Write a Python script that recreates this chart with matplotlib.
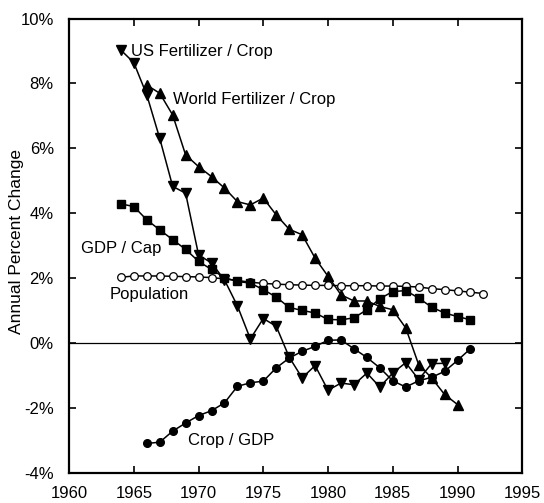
import matplotlib
matplotlib.use("Agg")
import matplotlib.pyplot as plt
from matplotlib.ticker import MultipleLocator, FuncFormatter

plt.rcParams['font.family'] = ['Liberation Sans', 'DejaVu Sans']

us_years = list(range(1964, 1990))
us_fert = [9.03, 8.64, 7.65, 6.31, 4.83, 4.62, 2.72, 2.47, 1.95, 1.15, 0.13, 0.76,
           0.52, -0.43, -1.07, -0.69, -1.45, -1.23, -1.28, -0.92, -1.35, -0.92,
           -0.60, -1.12, -0.63, -0.62]

world_years = list(range(1966, 1991))
world_fert = [7.95, 7.70, 7.03, 5.80, 5.44, 5.13, 4.78, 4.36, 4.26, 4.47, 3.95, 3.51,
              3.34, 2.62, 2.06, 1.49, 1.30, 1.30, 1.13, 1.03, 0.47, -0.66, -1.07,
              -1.58, -1.89]

gdp_years = list(range(1964, 1992))
gdp_cap = [4.29, 4.21, 3.80, 3.49, 3.19, 2.89, 2.52, 2.27, 2.02, 1.90, 1.85, 1.65,
           1.42, 1.10, 1.01, 0.93, 0.73, 0.72, 0.78, 1.03, 1.37, 1.59, 1.62, 1.39,
           1.11, 0.93, 0.82, 0.72]

pop_years = list(range(1964, 1993))
population = [2.03, 2.07, 2.07, 2.07, 2.06, 2.05, 2.04, 2.02, 1.98, 1.93, 1.88, 1.84,
              1.82, 1.80, 1.79, 1.78, 1.78, 1.77, 1.77, 1.77, 1.76, 1.76, 1.75, 1.73,
              1.68, 1.65, 1.61, 1.57, 1.53]

crop_years = list(range(1966, 1992))
crop_gdp = [-3.09, -3.05, -2.71, -2.46, -2.23, -2.08, -1.84, -1.33, -1.22, -1.17,
            -0.76, -0.46, -0.25, -0.10, 0.09, 0.10, -0.17, -0.44, -0.76, -1.16,
            -1.35, -1.16, -1.05, -0.87, -0.53, -0.17]

labels = {
    "US Fertilizer / Crop": (1964.8, 9.0),
    "World Fertilizer / Crop": (1968.0, 7.5),
    "GDP / Cap": (1960.95, 2.93),
    "Population": (1963.1, 1.51),
    "Crop / GDP": (1969.2, -3.0),
}

fig = plt.figure(figsize=(5.44, 5.03), dpi=100)
ax = fig.add_axes([0.127, 0.0596, 0.833, 0.9035])

lw = 1.1
ax.axhline(0, color='black', lw=0.9, zorder=1)
ax.plot(pop_years, population, '-o', color='black', lw=lw, ms=5.5,
        mfc='white', mec='black', mew=0.9, zorder=3)
ax.plot(gdp_years, gdp_cap, '-s', color='black', lw=lw, ms=5.5, zorder=4)
ax.plot(crop_years, crop_gdp, '-o', color='black', lw=lw, ms=5.5, zorder=4)
ax.plot(world_years, world_fert, '-^', color='black', lw=lw, ms=7, zorder=5)
ax.plot(us_years, us_fert, '-v', color='black', lw=lw, ms=7, zorder=5)

for text, (x, y) in labels.items():
    ax.text(x, y, text, fontsize=12, ha='left', va='center')

ax.set_xlim(1960, 1995)
ax.set_ylim(-4, 10)
ax.xaxis.set_major_locator(MultipleLocator(5))
ax.yaxis.set_major_locator(MultipleLocator(2))
ax.yaxis.set_major_formatter(FuncFormatter(lambda v, p: f"{v:.0f}%"))
ax.tick_params(direction='in', length=5, width=1.2, top=True, right=True,
               labelsize=12)
ax.tick_params(axis='x', pad=9)
ax.tick_params(axis='y', pad=11)
for s in ax.spines.values():
    s.set_linewidth(1.6)
ax.set_ylabel("Annual Percent Change", fontsize=12.5)
ax.yaxis.set_label_coords(-0.1, 0.51)

fig.savefig("out.png", dpi=100)
